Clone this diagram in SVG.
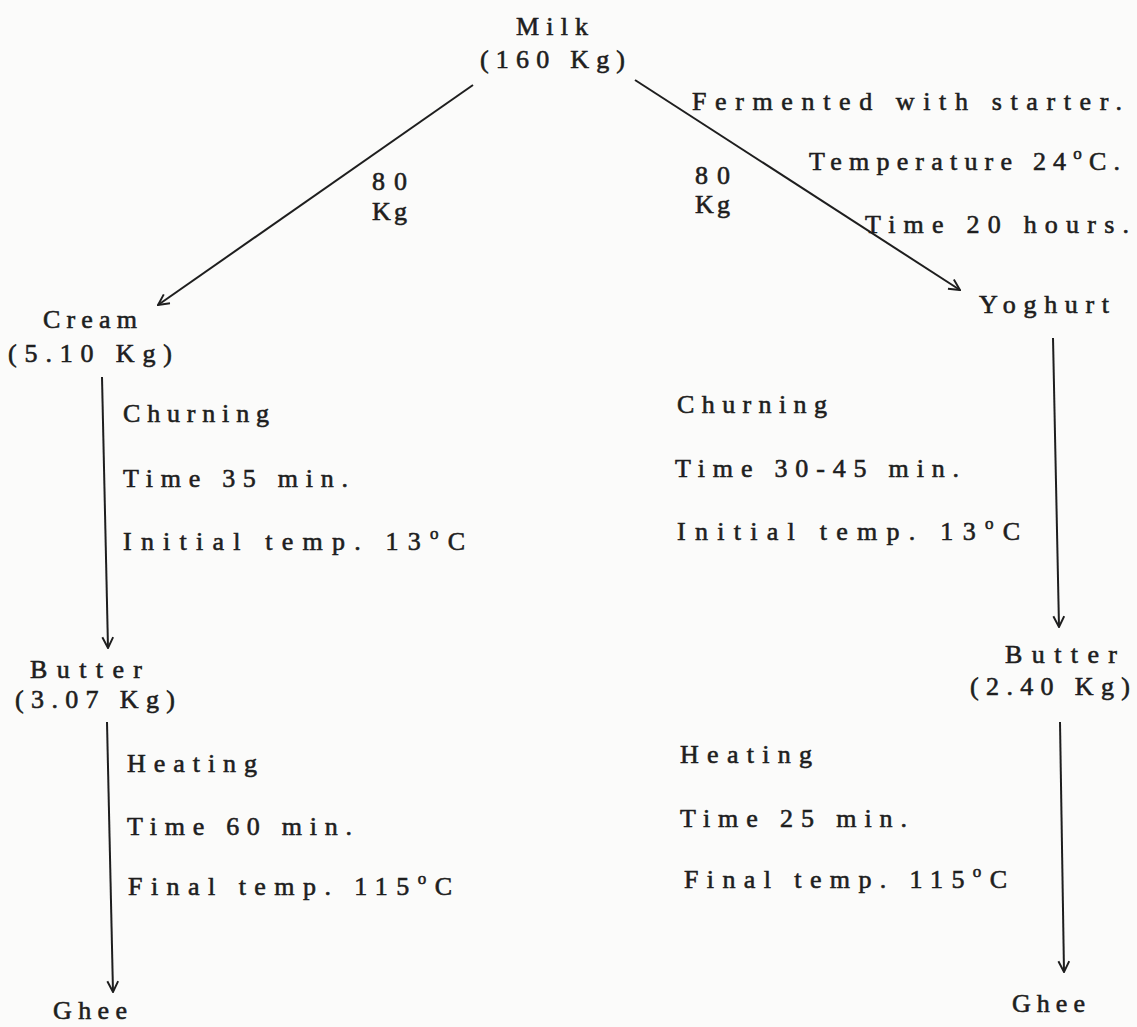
<svg xmlns="http://www.w3.org/2000/svg" width="1137" height="1027" viewBox="0 0 1137 1027">
<style>
  text { font-family: "Liberation Serif", "DejaVu Serif", serif; font-size: 26px; fill: #1e1e1e; stroke: #1e1e1e; stroke-width: 0.6; }
  .sup { font-size: 17px; }
  .conn line { stroke: #1e1e1e; stroke-width: 2; fill: none; }
</style>
<defs>
  <marker id="arr" viewBox="0 0 12 12" markerWidth="13" markerHeight="13" refX="11" refY="6" orient="auto" markerUnits="userSpaceOnUse">
    <path d="M1,1 L11,6 L1,11" fill="none" stroke="#1e1e1e" stroke-width="1.8"/>
  </marker>
</defs>
<rect width="1137" height="1027" fill="#fbfbfa"/>

<g id="connectors" class="conn">
  <line x1="473" y1="85" x2="158" y2="305" marker-end="url(#arr)"/>
  <line x1="635" y1="80" x2="960" y2="290" marker-end="url(#arr)"/>
  <line x1="102" y1="377" x2="108" y2="648" marker-end="url(#arr)"/>
  <line x1="1053" y1="338" x2="1059" y2="627" marker-end="url(#arr)"/>
  <line x1="107" y1="722" x2="113" y2="992" marker-end="url(#arr)"/>
  <line x1="1060" y1="722" x2="1064" y2="972" marker-end="url(#arr)"/>
</g>

<g id="edge-labels">
  <text x="372" y="190" textLength="35" lengthAdjust="spacing">80</text>
  <text x="372" y="220" textLength="35" lengthAdjust="spacing">Kg</text>
  <text x="695" y="184" textLength="35" lengthAdjust="spacing">80</text>
  <text x="695" y="213" textLength="35" lengthAdjust="spacing">Kg</text>
  <text x="692" y="110" textLength="430" lengthAdjust="spacing">Fermented with starter.</text>
  <text x="809" y="170" textLength="311" lengthAdjust="spacing">Temperature 24<tspan class="sup" dy="-11">o</tspan><tspan dy="11">C.</tspan></text>
  <text x="865" y="233" textLength="264" lengthAdjust="spacing">Time 20 hours.</text>
</g>

<g id="node-milk">
  <text x="516" y="35" textLength="72" lengthAdjust="spacing">Milk</text>
  <text x="480" y="68" textLength="145" lengthAdjust="spacing">(160 Kg)</text>
</g>

<g id="node-cream">
  <text x="43" y="328" textLength="94" lengthAdjust="spacing">Cream</text>
  <text x="8" y="362" textLength="164" lengthAdjust="spacing">(5.10 Kg)</text>
</g>

<g id="node-yoghurt">
  <text x="979" y="313" textLength="130" lengthAdjust="spacing">Yoghurt</text>
</g>

<g id="step-churning-left">
  <text x="123" y="422" textLength="146" lengthAdjust="spacing">Churning</text>
  <text x="123" y="487" textLength="225" lengthAdjust="spacing">Time 35 min.</text>
  <text x="123" y="550" textLength="342" lengthAdjust="spacing">Initial temp. 13<tspan class="sup" dy="-11">o</tspan><tspan dy="11">C</tspan></text>
</g>

<g id="step-churning-right">
  <text x="677" y="413" textLength="150" lengthAdjust="spacing">Churning</text>
  <text x="675" y="477" textLength="284" lengthAdjust="spacing">Time 30-45 min.</text>
  <text x="677" y="540" textLength="343" lengthAdjust="spacing">Initial temp. 13<tspan class="sup" dy="-11">o</tspan><tspan dy="11">C</tspan></text>
</g>

<g id="node-butter-left">
  <text x="30" y="678" textLength="112" lengthAdjust="spacing">Butter</text>
  <text x="15" y="708" textLength="160" lengthAdjust="spacing">(3.07 Kg)</text>
</g>

<g id="node-butter-right">
  <text x="1005" y="663" textLength="112" lengthAdjust="spacing">Butter</text>
  <text x="970" y="695" textLength="160" lengthAdjust="spacing">(2.40 Kg)</text>
</g>

<g id="step-heating-left">
  <text x="127" y="772" textLength="130" lengthAdjust="spacing">Heating</text>
  <text x="127" y="835" textLength="225" lengthAdjust="spacing">Time 60 min.</text>
  <text x="128" y="895" textLength="324" lengthAdjust="spacing">Final temp. 115<tspan class="sup" dy="-11">o</tspan><tspan dy="11">C</tspan></text>
</g>

<g id="step-heating-right">
  <text x="680" y="763" textLength="132" lengthAdjust="spacing">Heating</text>
  <text x="680" y="827" textLength="227" lengthAdjust="spacing">Time 25 min.</text>
  <text x="684" y="888" textLength="323" lengthAdjust="spacing">Final temp. 115<tspan class="sup" dy="-11">o</tspan><tspan dy="11">C</tspan></text>
</g>

<g id="node-ghee-left">
  <text x="53" y="1019" textLength="74" lengthAdjust="spacing">Ghee</text>
</g>

<g id="node-ghee-right">
  <text x="1012" y="1012" textLength="73" lengthAdjust="spacing">Ghee</text>
</g>
</svg>
